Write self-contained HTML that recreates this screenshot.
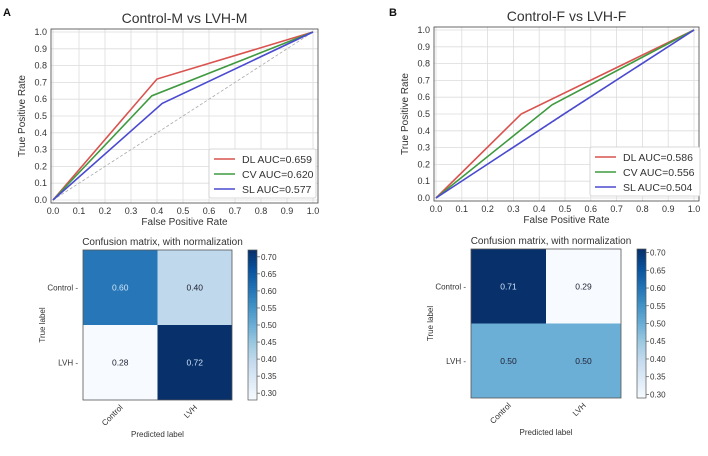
<!DOCTYPE html>
<html><head><meta charset="utf-8"><style>
body{margin:0;background:#fff;width:708px;height:451px;overflow:hidden;font-family:"Liberation Sans",sans-serif}
svg text{font-family:"Liberation Sans",sans-serif;fill:#333}
</style></head><body>
<svg id="c" width="708" height="451" xmlns="http://www.w3.org/2000/svg"></svg>
<script>
// Panel A ROC data
const rocTitleA = "Control-M vs LVH-M";
const seriesNames = ["DL","CV","SL"];
const seriesColors = ["#d9534f","#3f9a3f","#4a4ad0"];
const aucA = ["0.659","0.620","0.577"];
const rocXA = [[0,0.40,1],[0,0.38,1],[0,0.42,1]];
const rocYA = [[0,0.72,1],[0,0.62,1],[0,0.575,1]];
// Panel B ROC data
const rocTitleB = "Control-F vs LVH-F";
const aucB = ["0.586","0.556","0.504"];
const rocXB = [[0,0.33,1],[0,0.45,1],[0,0.5,1]];
const rocYB = [[0,0.50,1],[0,0.555,1],[0,0.504,1]];
const rocTicks = [0,0.1,0.2,0.3,0.4,0.5,0.6,0.7,0.8,0.9,1.0];
// Confusion matrices
const cmLabels = ["Control","LVH"];
const cmA = [[0.60,0.40],[0.28,0.72]];
const cmB = [[0.71,0.29],[0.50,0.50]];
const cbTicks = [0.30,0.35,0.40,0.45,0.50,0.55,0.60,0.65,0.70];

const NS="http://www.w3.org/2000/svg";
const svg=document.getElementById('c');
function el(tag,attrs,parent,txt){const e=document.createElementNS(NS,tag);for(const k in attrs)e.setAttribute(k,attrs[k]);if(txt!==undefined)e.textContent=txt;(parent||svg).appendChild(e);return e;}
const stops=["#f7fbff","#deebf7","#c6dbef","#9ecae1","#6baed6","#4292c6","#2171b5","#08519c","#08306b"];
function hx(h){return [1,3,5].map(i=>parseInt(h.substr(i,2),16));}
function blues(t){t=Math.max(0,Math.min(1,t));const p=t*8,i=Math.min(7,Math.floor(p)),f=p-i;const a=hx(stops[i]),b=hx(stops[i+1]);return 'rgb('+a.map((v,k)=>Math.round(v+(b[k]-v)*f)).join(',')+')';}

function roc(g,L,R,T,B,title,xs,ys,auc,lx,ly,lw){
  const sx=v=>L+(R-L)*v, sy=v=>B-(B-T)*v;
  const fl=L-2,fr=R+5,ft=T-3,fb=B+3;
  for(const t of rocTicks){
    const gx=el('line',{x1:sx(t),x2:sx(t),y1:ft,y2:fb,stroke:'#dcdcdc','stroke-width':0.8},g);
    
    const gy=el('line',{x1:fl,x2:fr,y1:sy(t),y2:sy(t),stroke:'#dcdcdc','stroke-width':0.8},g);
    
    const xt=el('text',{x:sx(t),y:fb+11,'font-size':9,'text-anchor':'middle'},g,t.toFixed(1));
    
    const yt=el('text',{x:fl-4,y:sy(t)+3,'font-size':9,'text-anchor':'end'},g,t.toFixed(1));
    
  }
  const d=el('line',{x1:sx(0),y1:sy(0),x2:sx(1),y2:sy(1),stroke:'#aaa','stroke-dasharray':'3,2','stroke-width':0.8},g);
  
  for(let s=0;s<xs.length;s++){
    const pts=xs[s].map((x,i)=>sx(x)+','+sy(ys[s][i])).join(' ');
    const pl=el('polyline',{points:pts,fill:'none',stroke:seriesColors[s],'stroke-width':1.6},g);
    
  }
  const fr1=el('rect',{x:fl,y:ft,width:fr-fl,height:fb-ft,fill:'none',stroke:'#444','stroke-width':0.8},g);
  
  const ti=el('text',{x:(fl+fr)/2,y:ft-6,'font-size':14,'text-anchor':'middle'},g,title);
  
  const xl=el('text',{x:(fl+fr)/2,y:fb+22,'font-size':10,'text-anchor':'middle'},g,'False Positive Rate');
  
  const yx=fl-26,yy=(ft+fb)/2;
  const yl=el('text',{x:yx,y:yy,'font-size':10,'text-anchor':'middle',transform:'rotate(-90 '+yx+' '+yy+')'},g,'True Positive Rate');
  
  const lg=el('g',{},g);
  el('rect',{x:lx,y:ly,width:lw,height:49,fill:'#fff',stroke:'#ccc','stroke-width':0.8,rx:2},lg);
  for(let s=0;s<3;s++){
    const yy2=ly+10+s*15;
    el('line',{x1:lx+5,x2:lx+26,y1:yy2,y2:yy2,stroke:seriesColors[s],'stroke-width':1.6},lg);
    const t=el('text',{x:lx+33,y:yy2+4,'font-size':10.5},lg,seriesNames[s]+' AUC='+auc[s]);
    
  }
}

function cm(g,L,R,T,B,vals,cbx,vmin,vmax){
  const cw=(R-L)/2,ch=(B-T)/2;
  for(let i=0;i<2;i++)for(let j=0;j<2;j++){
    const v=vals[i][j],t=(v-vmin)/(vmax-vmin);
    const r=el('rect',{x:L+j*cw,y:T+i*ch,width:cw,height:ch,fill:blues(t)},g);
    
    const tx=el('text',{x:L+j*cw+cw/2,y:T+i*ch+ch/2+3,'font-size':8.5,'text-anchor':'middle',style:'fill:'+(t>0.6?'#cfe3f5':'#223')},g,v.toFixed(2));
    
  }
  el('rect',{x:L,y:T,width:R-L,height:B-T,fill:'none',stroke:'#555','stroke-width':0.8},g);
  const ti=el('text',{x:(L+R)/2+5,y:T-5,'font-size':10,'text-anchor':'middle'},g,'Confusion matrix, with normalization');
  
  for(let i=0;i<2;i++){
    const yl=el('text',{x:L-5,y:T+i*ch+ch/2+3,'font-size':8,'text-anchor':'end'},g,cmLabels[i]+' -');
    
    const cx=L+i*cw+cw/2+3,cy=B+8;
    const xl=el('text',{x:cx,y:cy,'font-size':8,'text-anchor':'end',transform:'rotate(-45 '+cx+' '+cy+')'},g,cmLabels[i]);
    
  }
  const tlx=L-38,tly=(T+B)/2;
  const tl=el('text',{x:tlx,y:tly,'font-size':8,'text-anchor':'middle',transform:'rotate(-90 '+tlx+' '+tly+')'},g,'True label');
  
  const pl=el('text',{x:(L+R)/2,y:B+37,'font-size':8,'text-anchor':'middle'},g,'Predicted label');
  
  const cb=el('g',{},g);
  const n=60,h=(B-T)/n;
  for(let k=0;k<n;k++){el('rect',{x:cbx,y:B-(k+1)*h,width:9,height:h+0.5,fill:blues((k+0.5)/n)},cb);}
  el('rect',{x:cbx,y:T,width:9,height:B-T,fill:'none',stroke:'#555','stroke-width':0.7},cb);
  for(const t of cbTicks){
    const y=B-(B-T)*(t-vmin)/(vmax-vmin);
    el('line',{x1:cbx+9,x2:cbx+12,y1:y,y2:y,stroke:'#555','stroke-width':0.7},cb);
    const tt=el('text',{x:cbx+13,y:y+3,'font-size':8},cb,t.toFixed(2));
    
  }
}

const gA=el('g',{});
const gB=el('g',{});
const la=el('text',{x:3,y:16,'font-size':11,'font-weight':'bold',style:'fill:#111'},gA,'A');

const lb=el('text',{x:389,y:16,'font-size':11,'font-weight':'bold',style:'fill:#111'},gB,'B');

roc(gA,53,313,32,200,rocTitleA,rocXA,rocYA,aucA,209,149,107);
roc(gB,436,694,30,198,rocTitleB,rocXB,rocYB,aucB,590,147,110);
cm(gA,83,232,250,400,cmA,248,0.28,0.72);
cm(gB,471,621,249,398,cmB,637,0.29,0.71);
</script>
</body></html>
